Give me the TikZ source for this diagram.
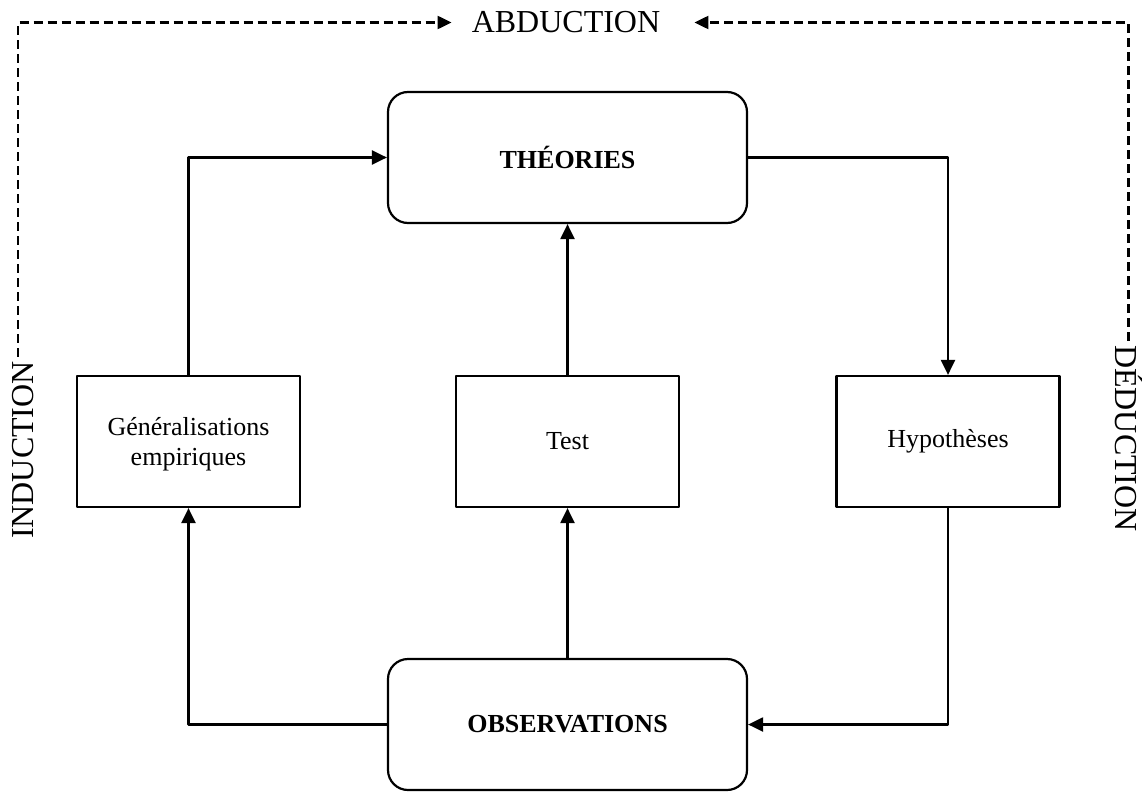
\documentclass[tikz,border=0pt]{standalone}
\usepackage{fontspec}
\setmainfont{Liberation Serif}
\usetikzlibrary{arrows.meta}
\begin{document}
\begin{tikzpicture}[x=1pt, y=-1pt, line join=round, >={Triangle[length=15pt,width=14pt]},
	bloc/.style={draw, line width=2.2pt, minimum width=223pt, minimum height=131pt, inner sep=4pt, align=center, font=\fontsize{26}{30}\selectfont},
	pole/.style={bloc, rounded corners=20pt, minimum width=359pt, font=\fontsize{26}{30}\selectfont\bfseries},
	mode/.style={font=\fontsize{32}{38}\selectfont, inner sep=4pt},
	fleche/.style={->, line width=2.2pt},
	pointille/.style={-{Triangle[length=14pt,width=13pt]}, line width=2.2pt, dash pattern=on 9pt off 5pt}]
	\useasboundingbox (0,0) rectangle (1142,792);
	% les deux poles
	\node[pole] (theo) at (567.5,157.5) {THÉORIES};
	\node[pole] (obs) at (567.5,724.5) {OBSERVATIONS};
	% les trois etapes
	\node[bloc, text depth=0pt] (gen) at (188.5,441.5) {Généralisations\\empiriques};
	\node[bloc] (test) at (567.5,441.5) {Test};
	\node[bloc] (hyp) at (948,441.5) {Hypothèses};
	% les modes de raisonnement
	\node[mode, inner xsep=20pt] (abd) at (566,22.5) {ABDUCTION};
	\node[mode, rotate=90, anchor=base] (ind) at (33.5,450) {INDUCTION};
	\node[mode, rotate=-90, anchor=base] (ded) at (1115,438.5) {DÉDUCTION};
	\draw[fleche] (gen.north) |- (theo.west);
	\draw[fleche] (test.north) -- (theo.south);
	\draw[fleche] (theo.east) -| (hyp.north);
	\draw[fleche] (obs.west) -| (gen.south);
	\draw[fleche] (obs.north) -- (test.south);
	\draw[fleche] (hyp.south) |- (obs.east);
	\draw[pointille] ([xshift=-5pt]ind.east) |- (abd.west);
	\draw[pointille] (ded.west) |- ([xshift=14pt]abd.east);
\end{tikzpicture}
\end{document}
